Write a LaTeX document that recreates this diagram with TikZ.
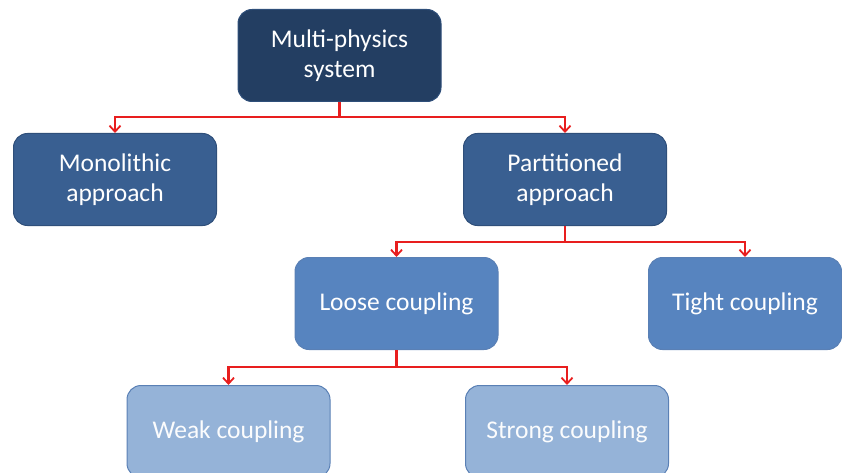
\documentclass[tikz,border=0pt]{standalone}
\usepackage{fontspec}
\setmainfont{Carlito}
\usetikzlibrary{arrows.meta}
\definecolor{cTop}{HTML}{233E62}
\definecolor{cMid}{HTML}{395F91}
\definecolor{cLow}{HTML}{5784BF}
\definecolor{cBot}{HTML}{95B3D8}
\definecolor{cEdge}{HTML}{2F4F7A}
\definecolor{cEdgeL}{HTML}{5A80B5}
\definecolor{cRed}{HTML}{E81E1E}
\tikzset{
  box/.style={rectangle, rounded corners=14pt, draw=cEdge, line width=1pt,
    minimum width=203pt, minimum height=92pt, text=white, align=center,
    font=\fontsize{25.5}{30}\selectfont, inner sep=0pt},
  lvl0/.style={box, fill=cTop},
  lvl1/.style={box, fill=cMid},
  lvl2/.style={box, fill=cLow, draw=cEdgeL},
  lvl3/.style={box, fill=cBot, draw=cEdgeL, text=white!96!cBot},
  arr/.style={draw=cRed, line width=2.2pt, -{Straight Barb[length=6pt,width=11pt,line width=1.8pt]}}
}
\begin{document}
\begin{tikzpicture}[x=1pt,y=1pt]
\useasboundingbox (0,0) rectangle (842,-473);
\clip (0,0) rectangle (842,-473);
\node[lvl0] (top) at (339.5,-55.5) {Multi-physics\\system};
\node[lvl1] (mono) at (115,-179.5) {Monolithic\\approach};
\node[lvl1] (part) at (565,-179.5) {Partitioned\\approach};
\node[lvl2] (loose) at (396.5,-303.5) {Loose coupling};
\node[lvl2, minimum width=193pt] (tight) at (745,-303.5) {Tight coupling};
\node[lvl3] (weak) at (228.5,-431.5) {Weak coupling};
\node[lvl3] (strong) at (567,-431.5) {Strong coupling};
\coordinate (b1) at (0,-117);
\coordinate (b2) at (0,-242);
\coordinate (b3) at (0,-367);
\draw[arr] (top.south) -- (top.south |- b1) -| (mono.north);
\draw[arr] (top.south) -- (top.south |- b1) -| (part.north);
\draw[arr] (part.south) -- (part.south |- b2) -| (loose.north);
\draw[arr] (part.south) -- (part.south |- b2) -| (tight.north);
\draw[arr] (loose.south) -- (loose.south |- b3) -| (weak.north);
\draw[arr] (loose.south) -- (loose.south |- b3) -| (strong.north);
\end{tikzpicture}
\end{document}
